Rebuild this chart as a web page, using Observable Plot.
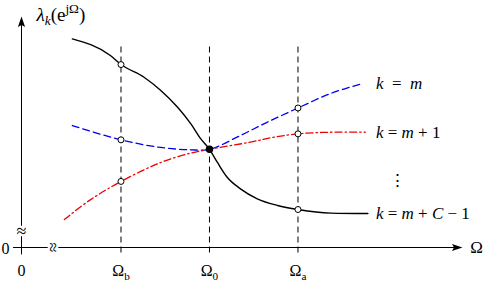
<!DOCTYPE html>
<html><head><meta charset="utf-8">
<script src="https://cdn.jsdelivr.net/npm/d3@7"></script>
<script src="https://cdn.jsdelivr.net/npm/@observablehq/plot@0.6"></script>
<style>body{margin:0;background:#fff} svg text{font-family:"Liberation Serif","DejaVu Serif",serif;}</style>
</head><body><div id="chart"></div>
<script>
// x units: Ω_b = 1, Ω_0 = 2, Ω_a = 3 ; y: arbitrary eigenvalue magnitude
const blackX = [0.45,0.88,1,1.26,1.45,1.64,1.79,1.9,2,2.09,2.2,2.35,2.54,2.77,3,3.37,3.79];
const blackY = [9.03,8.31,7.92,7.37,6.80,6.07,5.35,4.71,4.25,3.68,3.04,2.54,2.11,1.82,1.645,1.49,1.47];
const blueX  = [0.45,1,1.45,1.79,2,2.35,2.65,3,3.37,3.74];
const blueY  = [5.28,4.66,4.33,4.23,4.25,4.85,5.42,6.04,6.67,7.11];
const redX   = [0.36,0.64,1,1.45,1.79,2,2.46,2.72,3,3.37,3.76];
const redY   = [1.21,2.03,2.86,3.68,4.09,4.25,4.56,4.77,4.92,4.99,4.99];
const seriesNames = ["*k*\u2002=\u2002*m*", "*k* = *m* + 1", "*k* = *m* + *C* − 1"];
const tickPos = [1, 2, 3];
const tickLabels = ["Ω_b", "Ω_0", "Ω_a"];
const originLabel = "0";
const xLabel = "Ω";
const yLabel = "*λ*_{*k*}(e^{jΩ})";
const breakGlyph = "≈";
const ellipsis = "⋮";
const markerAt = [1, 3];
const crossAt = 2;

const xOrigin = -0.1243, xMax = 4.927;
const series = [
  {name: seriesNames[0], xs: blueX,  ys: blueY,  color: "#0000ee", dash: "7,4", curve: "catmull-rom"},
  {name: seriesNames[1], xs: redX,   ys: redY,   color: "#ee0000", dash: "7,3,1.5,3", curve: "catmull-rom"},
  {name: seriesNames[2], xs: blackX, ys: blackY, color: "black",   dash: null, curve: "monotone-x"}
];
const pts = series.flatMap(s => s.xs.map((x, i) => ({x, y: s.ys[i], name: s.name})));
const openPts = pts.filter(d => markerAt.includes(d.x));
const crossPt = pts.filter(d => d.x === crossAt && d.name === seriesNames[2]);
const ends = series.map(s => ({x: d3.max(series, t => t.xs[t.xs.length-1]), y: s.ys[s.ys.length-1], name: s.name}));

const arrowUp = {draw(c){ c.moveTo(0,0); c.lineTo(3.6,10.5); c.lineTo(0,8.5); c.lineTo(-3.6,10.5); c.closePath(); }};
const arrowRight = {draw(c){ c.moveTo(0,0); c.lineTo(-10.5,3.6); c.lineTo(-8.5,0); c.lineTo(-10.5,-3.6); c.closePath(); }};

const font = "'Liberation Serif', 'DejaVu Serif', serif";
const plot = Plot.plot({
  width: 484, height: 282, margin: 0,
  x: {domain: [xOrigin, xMax], range: [21, 468], axis: null},
  y: {domain: [0, 10], range: [247, 16], axis: null},
  style: {fontFamily: font, background: "white", overflow: "visible"},
  marks: [
    Plot.ruleX(tickPos, {y1: -0.24, y2: 8.74, stroke: "black", strokeWidth: 1, strokeDasharray: "6,4"}),
    Plot.ruleY([0], {x1: -0.215, x2: 4.80, stroke: "black", strokeWidth: 1}),
    Plot.ruleX([xOrigin], {y1: -0.32, y2: 9.7, stroke: "black", strokeWidth: 1}),
    Plot.dot([{x: 4.859, y: 0}], {x: "x", y: "y", symbol: arrowRight, fill: "black", stroke: "none", r: 5}),
    Plot.dot([{x: xOrigin, y: 10}], {x: "x", y: "y", symbol: arrowUp, fill: "black", stroke: "none", r: 5}),
    ...series.map(s => Plot.line(pts.filter(d => d.name === s.name), {
      x: "x", y: "y", stroke: s.color, strokeWidth: s.dash ? 1.3 : 1.4,
      strokeDasharray: s.dash ?? undefined, curve: s.curve
    })),
    Plot.dot(openPts, {x: "x", y: "y", r: 3, fill: "white", stroke: "black", strokeWidth: 1}),
    Plot.dot(crossPt, {x: "x", y: "y", r: 3, fill: "black", stroke: "black"}),
    // axis breaks (white halo then glyph)
    Plot.text([breakGlyph], {x: xOrigin, y: 0.72, text: d => d, fontSize: 18, fill: "white", stroke: "white", strokeWidth: 5}),
    Plot.text([breakGlyph], {x: xOrigin, y: 0.72, text: d => d, fontSize: 18, fill: "black"}),
    Plot.text([breakGlyph], {x: 0.23, y: 0, text: d => d, rotate: 90, fontSize: 18, fill: "white", stroke: "white", strokeWidth: 5}),
    Plot.text([breakGlyph], {x: 0.23, y: 0, text: d => d, rotate: 90, fontSize: 18, fill: "black"}),
    // tick labels
    Plot.text(tickPos, {x: d => d, y: -1.0, text: (d, i) => tickLabels[i], fontSize: 16, fill: "black"}),
    Plot.text([originLabel], {x: xOrigin, y: -1.0, text: d => d, fontSize: 16, fill: "black"}),
    Plot.text([originLabel], {x: xOrigin, y: 0, dx: -16, dy: 1, text: d => d, fontSize: 16, fill: "black"}),
    Plot.text([xLabel], {x: xMax, y: 0, dx: 8, text: d => d, fontSize: 17, fill: "black"}),
    Plot.text([yLabel], {x: xOrigin, y: 10, dx: 15, dy: -2, text: d => d, textAnchor: "start", fontSize: 19, fill: "black"}),
    // series labels
    Plot.text(ends, {x: "x", y: "y", dx: 8, text: "name", textAnchor: "start", fontSize: 17, fill: "black"}),
    Plot.text([ellipsis], {x: ends[2].x, y: 2.9, dx: 30, text: d => d, fontSize: 17, fill: "black"})
  ]
});
document.getElementById("chart").appendChild(plot);

// rich text: *italic*, _sub / _{sub}, ^sup / ^{sup}
plot.querySelectorAll("text").forEach(el => {
  const s = el.textContent;
  if (!/[*_^]/.test(s)) return;
  const fs = parseFloat(getComputedStyle(el).fontSize) || 16;
  const runs = []; let it = false, buf = "", sh = 0;
  const flush = () => { if (buf) runs.push({t: buf, it, sh}); buf = ""; };
  for (let i = 0; i < s.length; i++) {
    const c = s[i];
    if (c === "*") { flush(); it = !it; }
    else if (c === "_" || c === "^") {
      flush(); let content;
      if (s[i+1] === "{") { const j = s.indexOf("}", i); content = s.slice(i+2, j); i = j; }
      else { content = s[i+1]; i++; }
      sh = c === "_" ? 1 : -1;
      for (const ch of content) { if (ch === "*") { flush(); it = !it; } else buf += ch; }
      flush(); sh = 0;
    } else buf += c;
  }
  flush();
  el.textContent = "";
  let off = 0;
  for (const r of runs) {
    const t = document.createElementNS("http://www.w3.org/2000/svg", "tspan");
    const target = r.sh === 1 ? 0.25 * fs : r.sh === -1 ? -0.42 * fs : 0;
    if (target !== off) t.setAttribute("dy", target - off);
    off = target;
    if (r.sh) t.setAttribute("font-size", 0.7 * fs);
    if (r.it) t.setAttribute("font-style", "italic");
    t.textContent = r.t;
    el.appendChild(t);
  }
});
</script>
</body></html>
